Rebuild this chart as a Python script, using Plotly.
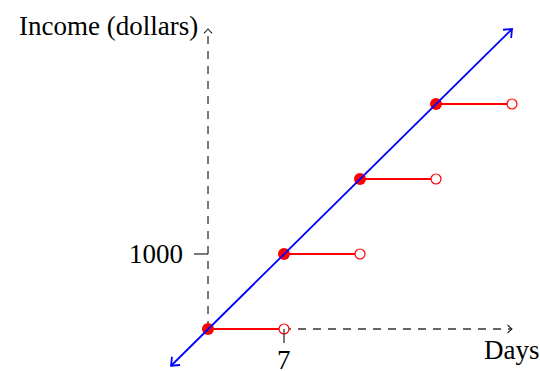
import numpy as np
import plotly.graph_objects as go

# ---- data ----
step_start = [0, 7, 14, 21]          # days
step_end = [7, 14, 21, 28]           # days
step_income = [0, 1000, 2000, 3000]  # dollars
line_days = [-3.4, 28]
line_income = [-490, 4000]
axis_days_max = 28
axis_income_max = 4000
xtick_vals = [7]
xtick_text = ["7"]
ytick_vals = [1000]
ytick_text = ["1000"]
x_label = "Days"
y_label = "Income (dollars)"

W, H = 540, 371
x_range = [-19.16, 30.58]
y_range = [-560, 4386.7]
sx = W / (x_range[1] - x_range[0])   # px per day
sy = H / (y_range[1] - y_range[0])   # px per dollar

RED = "#ff0000"
BLUE = "#0000ff"
AXC = "#333333"
FONT = "Liberation Serif"

fig = go.Figure()


def arrow_head(x_tip, y_tip, x_from, y_from, length, half_angle_deg):
    dx = (x_tip - x_from) * sx
    dy = (y_tip - y_from) * sy
    n = np.hypot(dx, dy)
    ux, uy = dx / n, dy / n
    xs, ys = [], []
    for sgn in (1, -1):
        a = np.deg2rad(sgn * half_angle_deg)
        bx = -(ux * np.cos(a) - uy * np.sin(a)) * length
        by = -(ux * np.sin(a) + uy * np.cos(a)) * length
        xs.append(x_tip + bx / sx)
        ys.append(y_tip + by / sy)
    return [xs[0], x_tip, xs[1]], [ys[0], y_tip, ys[1]]


# dashed axes
fig.add_trace(go.Scatter(x=[0, axis_days_max], y=[0, 0], mode="lines",
                         line=dict(color=AXC, width=1.3, dash="8px,7px"),
                         hoverinfo="skip"))
fig.add_trace(go.Scatter(x=[0, 0], y=[0, axis_income_max], mode="lines",
                         line=dict(color=AXC, width=1.3, dash="8px,7px"),
                         hoverinfo="skip"))
ax, ay = arrow_head(axis_days_max, 0, 0, 0, 6, 42)
fig.add_trace(go.Scatter(x=ax, y=ay, mode="lines", line=dict(color="#222", width=1.1),
                         hoverinfo="skip"))
ax, ay = arrow_head(0, axis_income_max, 0, 0, 6, 42)
fig.add_trace(go.Scatter(x=ax, y=ay, mode="lines", line=dict(color="#222", width=1.1),
                         hoverinfo="skip"))

# ticks
for v in ytick_vals:
    fig.add_shape(type="line", xref="x", yref="y", xsizemode="pixel", xanchor=0,
                  x0=-14, x1=0, y0=v, y1=v, line=dict(color="#222", width=1.2))
for v in xtick_vals:
    fig.add_shape(type="line", xref="x", yref="y", ysizemode="pixel", yanchor=0,
                  y0=-14, y1=0, x0=v, x1=v, line=dict(color="#222", width=1.2))

# red step segments
for a, b, c in zip(step_start, step_end, step_income):
    fig.add_trace(go.Scatter(x=[a, b], y=[c, c], mode="lines",
                             line=dict(color=RED, width=2.2), hoverinfo="skip"))

# filled dots
fig.add_trace(go.Scatter(x=step_start, y=step_income, mode="markers",
                         marker=dict(color=RED, size=12, line=dict(width=0)),
                         hoverinfo="skip"))

# blue line with arrows on both ends
fig.add_trace(go.Scatter(x=line_days, y=line_income, mode="lines",
                         line=dict(color=BLUE, width=1.8), hoverinfo="skip"))
ax, ay = arrow_head(line_days[1], line_income[1], line_days[0], line_income[0], 9, 40)
fig.add_trace(go.Scatter(x=ax, y=ay, mode="lines", line=dict(color=BLUE, width=1.8),
                         hoverinfo="skip"))
ax, ay = arrow_head(line_days[0], line_income[0], line_days[1], line_income[1], 9, 40)
fig.add_trace(go.Scatter(x=ax, y=ay, mode="lines", line=dict(color=BLUE, width=1.8),
                         hoverinfo="skip"))

# open circles
fig.add_trace(go.Scatter(x=step_end, y=step_income, mode="markers",
                         marker=dict(color="white", size=10, line=dict(color=RED, width=1.2)),
                         hoverinfo="skip"))

annos = []
for v, t in zip(xtick_vals, xtick_text):
    annos.append(dict(x=v, y=0, xref="x", yref="y", text=t, showarrow=False,
                      xanchor="center", yanchor="top", yshift=-14))
for v, t in zip(ytick_vals, ytick_text):
    annos.append(dict(x=0, y=v, xref="x", yref="y", text=t, showarrow=False,
                      xanchor="right", yanchor="middle", xshift=-23))
annos.append(dict(x=axis_days_max, y=0, xref="x", yref="y", text=x_label, showarrow=False,
                  xanchor="center", yanchor="top", yshift=-4))
annos.append(dict(x=0, y=axis_income_max, xref="x", yref="y", text=y_label, showarrow=False,
                  xanchor="right", yanchor="middle", xshift=-8, yshift=3))

fig.update_layout(
    width=W, height=H,
    margin=dict(l=0, r=0, t=0, b=0),
    paper_bgcolor="white", plot_bgcolor="white",
    showlegend=False,
    font=dict(family=FONT, size=27, color="black"),
    annotations=annos,
    xaxis=dict(range=x_range, visible=False, fixedrange=True),
    yaxis=dict(range=y_range, visible=False, fixedrange=True),
)

fig.write_html("out.html", config={"displayModeBar": False},
               post_script="document.body.style.margin='0px';document.body.style.overflow='hidden';")
